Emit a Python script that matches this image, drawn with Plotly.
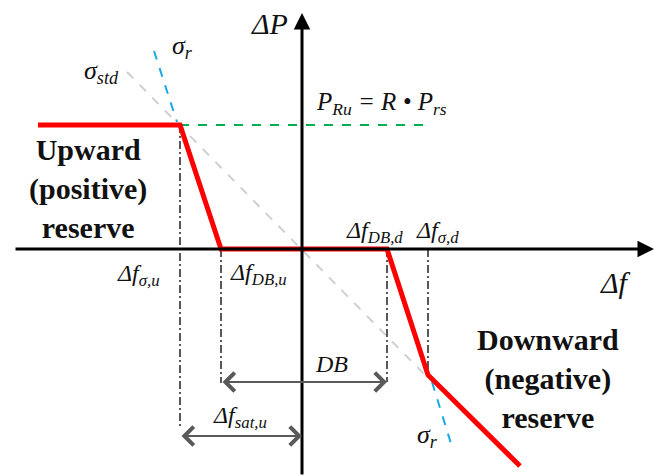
import plotly.graph_objects as go

# ---- data (arbitrary units: Δf horizontal, ΔP vertical) ----
droop_f = [-2.64, -1.22, -0.81, 0.85, 1.26, 2.18]
droop_p = [1.24, 1.24, 0.0, 0.0, -1.26, -2.17]

sigma_r_up_f = [-1.48, -1.25]
sigma_r_up_p = [1.98, 1.27]
sigma_r_dn_f = [1.30, 1.51]
sigma_r_dn_p = [-1.33, -2.01]

sigma_std_f = [-1.75, 1.23]
sigma_std_p = [1.77, -1.26]

pru_f = [-1.22, 1.28]
pru_p = [1.24, 1.24]

# dash-dot guides: (f, p_top, p_bottom)
guide_f = [-1.22, -0.81, 0.85, 1.26]
guide_top = [1.24, 0.0, 0.0, 0.0]
guide_bot = [-1.79, -1.34, -1.33, -1.26]

# dimension arrows: (f_start, f_end, p)
db_arrow = [-0.81, 0.85, -1.33]
sat_arrow = [-1.22, 0.0, -1.87]

# axes extents
f_axis = [-2.88, 3.52]
p_axis = [-2.27, 2.36]

X_RANGE = [-3.02, 3.52]
Y_RANGE = [-2.27, 2.49]

SERIF = "'Liberation Serif', 'Times New Roman', 'DejaVu Serif', serif"

fig = go.Figure()

# gray σ_std line
fig.add_trace(go.Scatter(x=sigma_std_f, y=sigma_std_p, mode="lines",
                         line=dict(color="#cfcfcf", width=2, dash="dash"), hoverinfo="skip"))
# blue σ_r lines
for fx, py in [(sigma_r_up_f, sigma_r_up_p), (sigma_r_dn_f, sigma_r_dn_p)]:
    fig.add_trace(go.Scatter(x=fx, y=py, mode="lines",
                             line=dict(color="#1aa8e6", width=2, dash="dash"), hoverinfo="skip"))
# green P_Ru line
fig.add_trace(go.Scatter(x=pru_f, y=pru_p, mode="lines",
                         line=dict(color="#00b050", width=2, dash="dash"), hoverinfo="skip"))
# dash-dot guides
for f, t, b in zip(guide_f, guide_top, guide_bot):
    fig.add_trace(go.Scatter(x=[f, f], y=[t, b], mode="lines",
                             line=dict(color="#000000", width=1.3, dash="8px,3px,2px,3px"),
                             hoverinfo="skip"))

# axes with arrowheads
fig.add_annotation(x=f_axis[1], y=0, ax=f_axis[0], ay=0, xref="x", yref="y",
                   axref="x", ayref="y", showarrow=True, arrowhead=2, arrowsize=1.1,
                   arrowwidth=3, arrowcolor="black", text="")
fig.add_annotation(x=0, y=p_axis[1], ax=0, ay=p_axis[0], xref="x", yref="y",
                   axref="x", ayref="y", showarrow=True, arrowhead=2, arrowsize=1.1,
                   arrowwidth=3, arrowcolor="black", text="")

# red droop characteristic
fig.add_trace(go.Scatter(x=droop_f, y=droop_p, mode="lines",
                         line=dict(color="#ff0000", width=5), hoverinfo="skip"))

# dimension arrows (double-headed)
for a in (db_arrow, sat_arrow):
    fig.add_annotation(x=a[1], y=a[2], ax=a[0], ay=a[2], xref="x", yref="y",
                       axref="x", ayref="y", showarrow=True, arrowhead=4, startarrowhead=4,
                       arrowside="end+start", arrowsize=1.8, startarrowsize=1.8,
                       arrowwidth=2, arrowcolor="#595959", text="")

# labels
def label(txt, f, p, size=22, bold=False, italic=True):
    fig.add_annotation(x=f, y=p, xref="x", yref="y", text=txt, showarrow=False,
                       font=dict(family=SERIF, size=size, color="#111111",
                                 style="italic" if italic else "normal",
                                 weight="bold" if bold else "normal"),
                       align="center", xanchor="center", yanchor="middle")

label("ΔP", -0.33, 2.26, size=30)
label("σ<sub>r</sub>", -1.20, 2.02, size=26)
label("σ<sub>std</sub>", -2.01, 1.77, size=26)
label("P<sub>Ru</sub> = R • P<sub>rs</sub>", 0.79, 1.46, size=25)
label("Δf<sub>σ,u</sub>", -1.64, -0.26, size=24)
label("Δf<sub>DB,u</sub>", -0.44, -0.25, size=24)
label("Δf<sub>DB,d</sub>", 0.72, 0.17, size=24)
label("Δf<sub>σ,d</sub>", 1.35, 0.17, size=24)
label("Δf", 3.13, -0.33, size=30)
label("DB", 0.29, -1.15, size=24)
label("Δf<sub>sat,u</sub>", -0.62, -1.68, size=24)
label("σ<sub>r</sub>", 1.25, -1.87, size=26)
label("Upward<br>(positive)<br>reserve", -2.14, 0.61, size=30, bold=True, italic=False)
label("Downward<br>(negative)<br>reserve", 2.46, -1.29, size=30, bold=True, italic=False)

fig.update_layout(
    width=654, height=476,
    margin=dict(l=0, r=0, t=0, b=0),
    paper_bgcolor="white", plot_bgcolor="white",
    showlegend=False,
    xaxis=dict(range=X_RANGE, visible=False, fixedrange=True),
    yaxis=dict(range=Y_RANGE, visible=False, fixedrange=True),
)

fig.write_html("out.html", config={"displayModeBar": False},
               post_script="document.body.style.margin='0';")
